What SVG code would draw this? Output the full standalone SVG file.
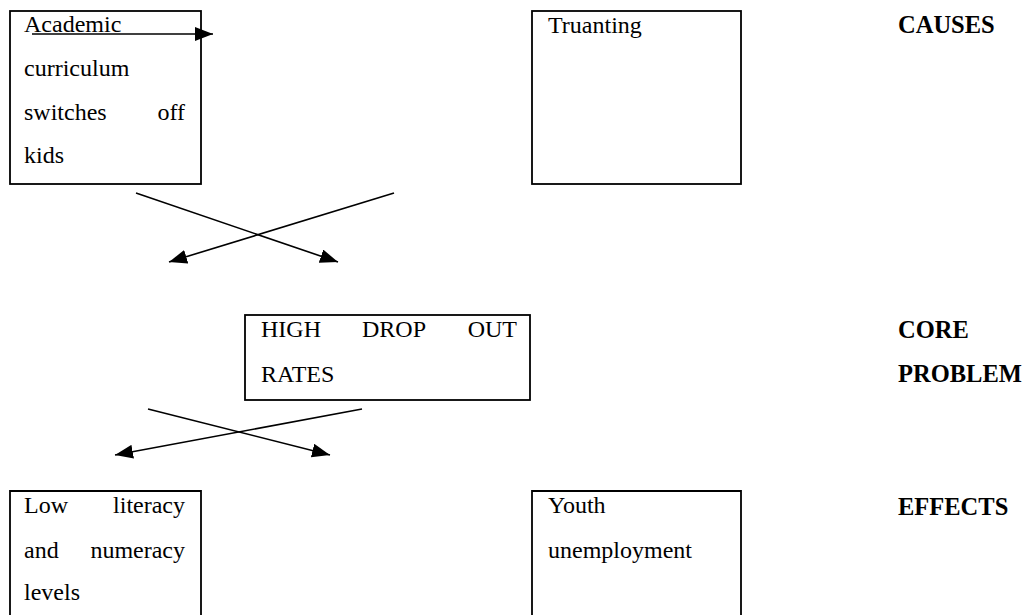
<svg xmlns="http://www.w3.org/2000/svg" width="1027" height="615" viewBox="0 0 1027 615">
<style>
.box{fill:#fff;stroke:#000;stroke-width:1.8}
text{font-family:'Liberation Serif','Times New Roman','DejaVu Serif',serif;fill:#000}
.t{font-size:24px}
.b{font-size:24.5px;font-weight:bold}
.e{text-anchor:end}
.c{stroke:#000;stroke-width:1.6;fill:none;marker-end:url(#ah)}
</style>
<defs>
<marker id="ah" markerUnits="userSpaceOnUse" markerWidth="20" markerHeight="14" refX="18" refY="7" orient="auto">
<path d="M0,0 L18,7 L0,14 Z" fill="#000"/>
</marker>
</defs>
<rect width="1027" height="615" fill="#fff"/>
<g id="node-academic">
<rect class="box" x="10" y="11" width="191" height="173"/>
<text class="t" x="24" y="32" font-family="Liberation Serif, serif">Academic</text>
<text class="t" x="24" y="76" font-family="Liberation Serif, serif">curriculum</text>
<text class="t" x="24" y="120" font-family="Liberation Serif, serif">switches</text>
<text class="t e" x="185" y="120" font-family="Liberation Serif, serif">off</text>
<text class="t" x="24" y="163" font-family="Liberation Serif, serif">kids</text>
</g>
<g id="node-truanting">
<rect class="box" x="532" y="11" width="209" height="173"/>
<text class="t" x="548" y="33">Truanting</text>
</g>
<g id="node-core">
<rect class="box" x="245" y="315" width="285" height="85"/>
<text class="t" x="261" y="337">HIGH</text>
<text class="t" x="362" y="337">DROP</text>
<text class="t e" x="517" y="337">OUT</text>
<text class="t" x="261" y="382">RATES</text>
</g>
<g id="node-literacy">
<path class="box" d="M10,616 V491 H201 V616"/>
<text class="t" x="24" y="513">Low</text>
<text class="t e" x="185" y="513">literacy</text>
<text class="t" x="24" y="558">and</text>
<text class="t e" x="185" y="558">numeracy</text>
<text class="t" x="24" y="600">levels</text>
</g>
<g id="node-youth">
<path class="box" d="M532,616 V491 H741 V616"/>
<text class="t" x="548" y="513">Youth</text>
<text class="t" x="548" y="558">unemployment</text>
</g>
<g id="label-causes"><text class="b" x="898" y="33">CAUSES</text></g>
<g id="label-core"><text class="b" x="898" y="338">CORE</text><text class="b" x="898" y="382">PROBLEM</text></g>
<g id="label-effects"><text class="b" x="898" y="515">EFFECTS</text></g>
<g id="connectors">
<line class="c" x1="32" y1="34" x2="213" y2="34"/>
<line class="c" x1="136" y1="193" x2="338" y2="262"/>
<line class="c" x1="394" y1="193" x2="169" y2="262"/>
<line class="c" x1="148" y1="409" x2="330" y2="455"/>
<line class="c" x1="362" y1="409" x2="115" y2="455"/>
</g>
</svg>
